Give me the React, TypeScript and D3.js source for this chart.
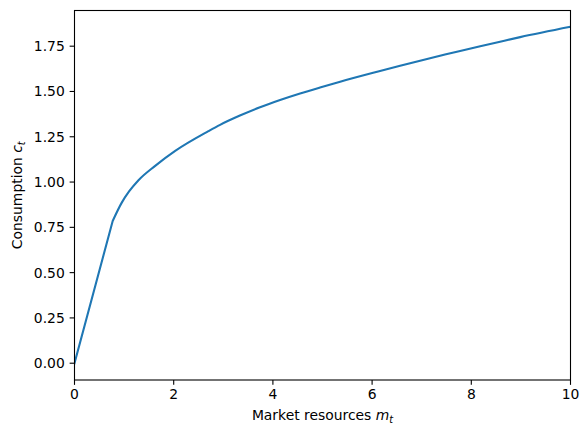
import React from "react";
import * as d3 from "d3";

const mValues = [0, 0.77, 0.95, 1.1, 1.29, 1.62, 2.03, 2.70, 2.935, 3.335, 3.74, 4.145, 4.548, 4.95, 5.356, 6.16, 6.565, 6.968, 7.37, 7.775, 8.18, 8.58, 8.985, 10];
const cValues = [0, 0.785, 0.885, 0.948, 1.010, 1.088, 1.172, 1.281, 1.316, 1.367, 1.413, 1.453, 1.489, 1.522, 1.554, 1.613, 1.642, 1.670, 1.697, 1.724, 1.750, 1.775, 1.800, 1.857];
const xTicks = [0, 2, 4, 6, 8, 10];
const yTicks = [0, 0.25, 0.5, 0.75, 1.0, 1.25, 1.5, 1.75];
const kinkIndex = 1;

const W = 588, H = 436;
const left = 74.5, right = 570.5, top = 10.5, bottom = 380;

export default function App() {
  const x = d3.scaleLinear().domain([0, 10]).range([left, right]);
  const y = d3.scaleLinear().domain([-0.0927, 1.947]).range([bottom, top]);
  const pts: [number, number][] = mValues.map((m, i) => [m, cValues[i]]);
  const lin = d3.line<[number, number]>().x(d => x(d[0])).y(d => y(d[1]));
  const smooth = d3.line<[number, number]>().x(d => x(d[0])).y(d => y(d[1])).curve(d3.curveMonotoneX);
  const p1 = lin(pts.slice(0, kinkIndex + 1)) || "";
  const p2 = smooth(pts.slice(kinkIndex)) || "";
  const p2NoMove = p2.replace(/^M[^LC]*/, "");
  const path = p1 + p2NoMove;
  const font = "DejaVu Sans, sans-serif";
  const fs = 13.9;
  return (
    <svg width={W} height={H} style={{ display: "block", position: "absolute", left: 0, top: 0 }}>
      <rect x={0} y={0} width={W} height={H} fill="white" />
      <defs>
        <clipPath id="clip"><rect x={left} y={top} width={right - left} height={bottom - top} /></clipPath>
      </defs>
      <path d={path} fill="none" stroke="#1f77b4" strokeWidth={2.08} clipPath="url(#clip)" strokeLinejoin="round" strokeLinecap="square" />
      <rect x={left} y={top} width={right - left} height={bottom - top} fill="none" stroke="black" strokeWidth={1.1} />
      {xTicks.map(t => (
        <g key={"x" + t}>
          <line x1={x(t)} x2={x(t)} y1={bottom} y2={bottom + 4.86} stroke="black" strokeWidth={1.1} />
          <text x={x(t)} y={bottom + 19} textAnchor="middle" fontFamily={font} fontSize={fs} fill="black">{t}</text>
        </g>
      ))}
      {yTicks.map(t => (
        <g key={"y" + t}>
          <line x1={left - 4.86} x2={left} y1={y(t)} y2={y(t)} stroke="black" strokeWidth={1.1} />
          <text x={left - 9.7} y={y(t)} dy="0.36em" textAnchor="end" fontFamily={font} fontSize={fs} fill="black">{t.toFixed(2)}</text>
        </g>
      ))}
      <text x={(left + right) / 2} y={420} textAnchor="middle" fontFamily={font} fontSize={fs} fill="black">
        Market resources <tspan fontStyle="italic">m</tspan><tspan fontStyle="italic" fontSize={fs * 0.7} dy={3}>t</tspan>
      </text>
      <text transform={`translate(22,${(top + bottom) / 2}) rotate(-90)`} textAnchor="middle" fontFamily={font} fontSize={fs} fill="black">
        Consumption <tspan fontStyle="italic">c</tspan><tspan fontStyle="italic" fontSize={fs * 0.7} dy={3}>t</tspan>
      </text>
    </svg>
  );
}
